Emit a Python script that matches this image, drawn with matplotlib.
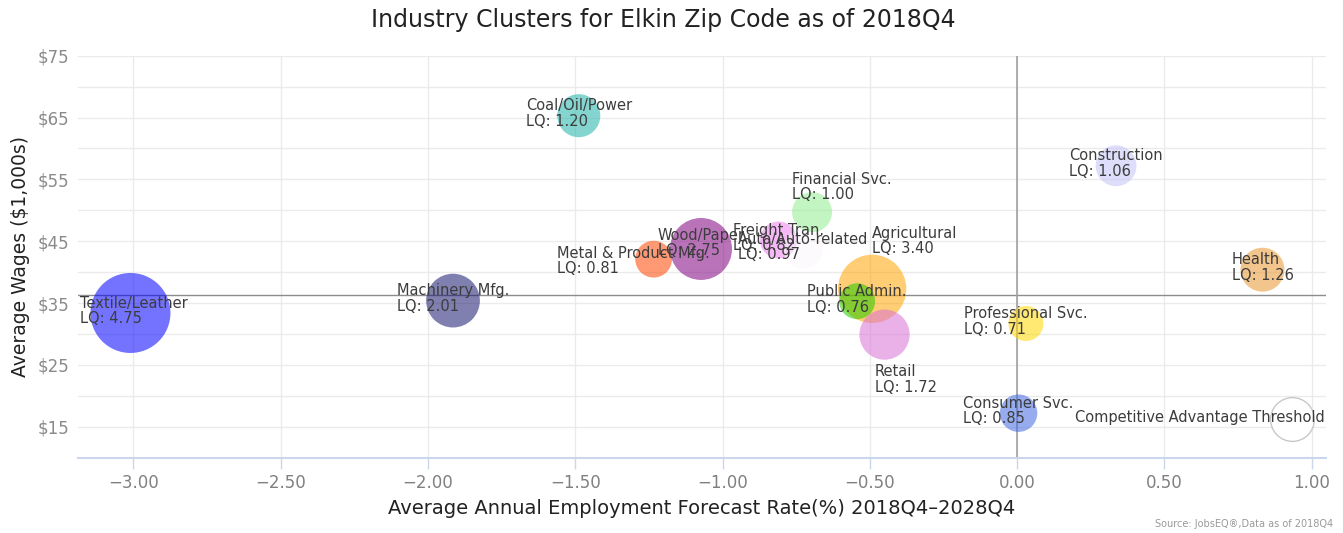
import matplotlib
matplotlib.use('Agg')
import matplotlib.pyplot as plt
import numpy as np

# cluster data
names = ['Textile/Leather', 'Machinery Mfg.', 'Coal/Oil/Power', 'Metal & Product Mfg.',
         'Wood/Paper', 'Freight Tran.', 'Auto/Auto-related', 'Financial Svc.',
         'Agricultural', 'Public Admin.', 'Retail', 'Professional Svc.',
         'Consumer Svc.', 'Construction', 'Health']
growth = [-3.01, -1.915, -1.488, -1.234, -1.073, -0.81, -0.727, -0.696,
          -0.492, -0.543, -0.45, 0.03, 0.005, 0.336, 0.833]
wages = [33.4, 35.4, 65.3, 42.1, 43.75, 45.2, 43.75, 49.7,
         37.3, 35.3, 29.9, 31.7, 17.2, 57.2, 40.4]
lq = [4.75, 2.01, 1.20, 0.81, 2.75, 0.82, 0.97, 1.00,
      3.40, 0.76, 1.72, 0.71, 0.85, 1.06, 1.26]
colors = ['#0000ff', '#191970', '#20b2aa', '#ff4500', '#800080', '#ee82ee', '#fdf6fd',
          '#90ee90', '#ffa500', '#22cc00', '#da70d6', '#ffd700', '#4169e1',
          '#c4c4f8', '#e8962e']

threshold_x, threshold_y, threshold_lq = 0.935, 16.2, 1.0
avg_wage = 36.3

# label offsets in pixels (dx, dy, ha)
label_pos = {
    'Textile/Leather': (-50, 2, 'left'),
    'Metal & Product Mfg.': (-20, -2, 'center'),
    'Wood/Paper': (0, 6, 'center'),
    'Financial Svc.': (-20, 25, 'left'),
    'Agricultural': (0, 48, 'left'),
    'Retail': (-10, -45, 'left'),
}

DPI = 100
fig = plt.figure(figsize=(13.43, 5.33), dpi=DPI)
ax = fig.add_axes([0.0581, 0.1413, 0.9293, 0.7542])

zmin, zmax = min(lq), max(lq)
def bubble_area(z):
    # highcharts-like area sizing between min and max diameter (pixels)
    dmin, dmax = 35.0, 80.0
    pos = (np.asarray(z) - zmin) / (zmax - zmin)
    d = np.sqrt(dmin**2 + pos * (dmax**2 - dmin**2))
    return (d * 72.0 / DPI) ** 2

ax.scatter(growth, wages, s=bubble_area(lq), c=colors, alpha=0.55,
           edgecolors='none', zorder=3)
ax.scatter([threshold_x], [threshold_y], s=bubble_area([threshold_lq]) * 1.2,
           facecolors='white', edgecolors='#c8c8c8', linewidths=1, zorder=3)

for n, x, y, z in zip(names, growth, wages, lq):
    dx, dy, ha = label_pos.get(n, (0, 2, 'center'))
    ax.annotate('%s\nLQ: %.2f' % (n, z), (x, y), xytext=(dx, dy),
                textcoords='offset pixels', ha=ha, va='center',
                multialignment='left', fontsize=10.5, color='#3c3c3c',
                linespacing=1.05, zorder=5)
ax.annotate('Competitive Advantage Threshold', (threshold_x, threshold_y),
            xytext=(32, 2), textcoords='offset pixels', ha='right', va='center',
            fontsize=10.5, color='#3c3c3c', zorder=5)

ax.axhline(avg_wage, color='#8c8c8c', lw=1, zorder=2)
ax.axvline(0, color='#a0a0a0', lw=1.2, zorder=2)

xt = np.arange(-3.0, 1.01, 0.5)
ax.set_xlim(-3.188, 1.049)
ax.set_ylim(10, 75)
ax.set_xticks(xt)
ax.set_xticklabels([('%.2f' % v).replace('-', '\u2212') for v in xt])
ax.set_yticks(np.arange(15, 76, 10))
ax.set_yticklabels(['$%d' % v for v in np.arange(15, 76, 10)])
ax.set_yticks(np.arange(10, 76, 5), minor=True)
ax.grid(True, which='major', color='#ebebeb', lw=1, zorder=0)
ax.grid(True, which='minor', axis='y', color='#ebebeb', lw=1, zorder=0)
ax.set_axisbelow(True)
ax.tick_params(axis='x', colors='#ccd6eb', labelcolor='#808080', labelsize=12,
               length=8, width=1, pad=4)
ax.tick_params(axis='y', which='both', length=0, labelcolor='#8a8a8a',
               labelsize=12, pad=6)
for side in ['top', 'right', 'left']:
    ax.spines[side].set_visible(False)
ax.spines['bottom'].set_color('#ccd6eb')
ax.spines['bottom'].set_linewidth(1.5)

ax.set_xlabel('Average Annual Employment Forecast Rate(%) 2018Q4\u20132028Q4',
              fontsize=14, color='#222222', labelpad=5)
ax.set_ylabel('Average Wages ($1,000s)', fontsize=13.5, color='#222222', labelpad=6)

fig.text(0.494, 0.962, 'Industry Clusters for Elkin Zip Code as of 2018Q4',
         ha='center', va='center', fontsize=17, color='#222222',
         family=['Liberation Sans Narrow', 'DejaVu Sans'])
fig.text(0.993, 0.017, 'Source: JobsEQ\u00ae,Data as of 2018Q4', ha='right',
         va='center', fontsize=7, color='#999999')

fig.savefig('out.png', dpi=DPI)
